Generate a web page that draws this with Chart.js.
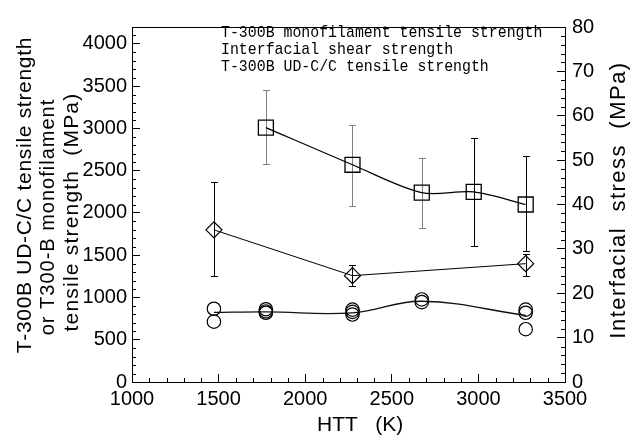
<!DOCTYPE html>
<html>
<head>
<meta charset="utf-8">
<script src="https://cdn.jsdelivr.net/npm/chart.js@4.4.1/dist/chart.umd.min.js"></script>
<style>
html,body{margin:0;padding:0;background:#fff;}
#wrap{width:640px;height:441px;position:relative;}
</style>
</head>
<body>
<div id="wrap"><canvas id="c"></canvas></div>
<script>
// ---------------- data ----------------
const monoHTT = [1773, 2273, 2673, 2973, 3273];
const monoStrength = [3010, 2570, 2240, 2250, 2100];
const monoLow = [2575, 2086, 1826, 1608, 1550];
const monoHigh = [3455, 3037, 2651, 2888, 2670];

const udHTT = [1473, 2273, 3273];
const udStrength = [1800, 1258, 1400];
const udLow = [1253, 1131, 1253];
const udHigh = [2369, 1390, 1520];

const issHTT = [1473, 1473, 1773, 1773, 1773, 2273, 2273, 2273, 2673, 2673, 3273, 3273, 3273];
const issValues = [16.5, 13.6, 16.4, 15.9, 15.6, 16.3, 15.8, 15.2, 18.6, 18.0, 16.3, 15.6, 11.9];

const issFitHTT = [1473, 1773, 2273, 2673, 3273];
const issFitValues = [15.7, 15.8, 15.6, 18.2, 15.0];

const xTicks = [1000, 1500, 2000, 2500, 3000, 3500];
const leftTicks = [0, 500, 1000, 1500, 2000, 2500, 3000, 3500, 4000];
const rightTicks = [0, 10, 20, 30, 40, 50, 60, 70, 80];

const legendLabels = [
  'T-300B monofilament tensile strength',
  'Interfacial shear strength',
  'T-300B UD-C/C tensile strength'
];
const xTitle = 'HTT   (K)';
const leftTitleLines = [
  'T-300B UD-C/C tensile strength',
  'or T300-B monofilament',
  'tensile strength  (MPa)'
];
const rightTitle = 'Interfacial  stress  (MPa)';

// ---------------- drawing ----------------
const FAMILY = '"Liberation Sans", Arial, sans-serif';
const monoBarColors = ['#808080', '#808080', '#808080', '#000', '#000'];
const udBarColors = ['#000', '#000', '#000'];

const decor = {
  id: 'decor',
  beforeDatasetsDraw(chart) {
    const {ctx, scales: {x, y}} = chart;
    ctx.save();
    ctx.lineWidth = 1;
    const bars = (xs, lo, hi, colors) => {
      xs.forEach((v, i) => {
        const px = Math.round(x.getPixelForValue(v)) + 0.5;
        const p1 = Math.round(y.getPixelForValue(lo[i])) + 0.5;
        const p2 = Math.round(y.getPixelForValue(hi[i])) + 0.5;
        ctx.strokeStyle = colors[i];
        ctx.beginPath();
        ctx.moveTo(px, p1); ctx.lineTo(px, p2);
        ctx.moveTo(px - 3.5, p1); ctx.lineTo(px + 3.5, p1);
        ctx.moveTo(px - 3.5, p2); ctx.lineTo(px + 3.5, p2);
        ctx.stroke();
      });
    };
    bars(monoHTT, monoLow, monoHigh, monoBarColors);
    bars(udHTT, udLow, udHigh, udBarColors);
    ctx.restore();
  },
  afterDraw(chart) {
    const {ctx, chartArea: a, scales: {x, y, y2}} = chart;
    ctx.save();
    ctx.strokeStyle = '#000';
    ctx.lineWidth = 1;
    // top frame line
    ctx.beginPath();
    ctx.moveTo(a.left, Math.round(a.top) + 0.5);
    ctx.lineTo(a.right, Math.round(a.top) + 0.5);
    ctx.stroke();
    // minor ticks
    ctx.beginPath();
    for (let v = 1100; v < 3500; v += 100) {
      if (v % 500 === 0) continue;
      const px = Math.round(x.getPixelForValue(v)) + 0.5;
      ctx.moveTo(px, a.bottom); ctx.lineTo(px, a.bottom - 4);
    }
    for (let v = 100; v < 4200; v += 100) {
      if (v % 500 === 0) continue;
      const py = Math.round(y.getPixelForValue(v)) + 0.5;
      ctx.moveTo(a.left, py); ctx.lineTo(a.left + 4, py);
    }
    for (let v = 2; v < 80; v += 2) {
      if (v % 10 === 0) continue;
      const py = Math.round(y2.getPixelForValue(v)) + 0.5;
      ctx.moveTo(a.right, py); ctx.lineTo(a.right - 4, py);
    }
    ctx.stroke();

    ctx.fillStyle = '#000';
    // legend text (text only)
    const lx = 221, lys = [37, 54, 71];
    ctx.font = '17px "Liberation Mono", "DejaVu Sans Mono", monospace';
    ctx.textAlign = 'left';
    ctx.textBaseline = 'alphabetic';
    legendLabels.forEach((t, i) => {
      ctx.save();
      ctx.translate(lx, lys[i]);
      ctx.scale(0.875, 1);
      ctx.fillText(t, 0, 0);
      ctx.restore();
    });

    // left axis title (three lines, rotated)
    const lcx = [25, 48, 72], lcy = [195, 217, 212];
    const lfs = [21, 20, 21], lls = ['0.7px', '1px', '1.2px'];
    leftTitleLines.forEach((t, i) => {
      ctx.save();
      ctx.translate(lcx[i], lcy[i]);
      ctx.rotate(-Math.PI / 2);
      ctx.font = lfs[i] + 'px ' + FAMILY;
      try { ctx.letterSpacing = lls[i]; } catch (e) {}
      ctx.textAlign = 'center';
      ctx.textBaseline = 'middle';
      ctx.fillText(t, 0, 0);
      ctx.restore();
    });

    // right axis title (rotated, reads bottom-to-top)
    ctx.save();
    ctx.translate(619, 200);
    ctx.rotate(-Math.PI / 2);
    ctx.font = '22px ' + FAMILY;
    try { ctx.letterSpacing = '1.5px'; } catch (e) {}
    ctx.textAlign = 'center';
    ctx.textBaseline = 'middle';
    ctx.fillText(rightTitle, 0, 0);
    ctx.restore();

    ctx.restore();
  }
};

const tickFont = {family: FAMILY, size: 20};
const plain = v => String(v);
const gridOpts = {display: true, drawOnChartArea: false, drawTicks: true, tickLength: -8, color: '#000', lineWidth: 1};
const borderOpts = {display: true, color: '#000', width: 1};

new Chart(document.getElementById('c'), {
  type: 'scatter',
  data: {
    datasets: [
      {
        label: legendLabels[0], type: 'line', yAxisID: 'y',
        data: monoHTT.map((v, i) => ({x: v, y: monoStrength[i]})),
        showLine: true, borderColor: '#000', borderWidth: 1.2, tension: 0.3, fill: false,
        pointStyle: 'rect', pointRadius: 10.6, pointBorderColor: '#000',
        pointBackgroundColor: 'rgba(0,0,0,0)', pointBorderWidth: 1.3
      },
      {
        label: legendLabels[2], type: 'line', yAxisID: 'y',
        data: udHTT.map((v, i) => ({x: v, y: udStrength[i]})),
        showLine: true, borderColor: '#000', borderWidth: 1, tension: 0, fill: false,
        pointStyle: 'rectRot', pointRadius: 8, pointBorderColor: '#000',
        pointBackgroundColor: 'rgba(0,0,0,0)', pointBorderWidth: 1.2
      },
      {
        label: legendLabels[1], type: 'scatter', yAxisID: 'y2',
        data: issHTT.map((v, i) => ({x: v, y: issValues[i]})),
        showLine: false, pointStyle: 'circle', pointRadius: 6.7,
        pointBorderColor: '#000', pointBackgroundColor: 'rgba(0,0,0,0)', pointBorderWidth: 1.2
      },
      {
        label: 'fit', type: 'line', yAxisID: 'y2',
        data: issFitHTT.map((v, i) => ({x: v, y: issFitValues[i]})),
        showLine: true, borderColor: '#111', borderWidth: 1.3, tension: 0.4, fill: false,
        pointRadius: 0
      }
    ]
  },
  options: {
    responsive: true,
    maintainAspectRatio: false,
    animation: false,
    devicePixelRatio: 1,
    layout: {padding: {top: 16, left: 0, right: 0, bottom: 0}},
    plugins: {legend: {display: false}, tooltip: {enabled: false}},
    events: [],
    scales: {
      x: {
        type: 'linear', position: 'bottom', min: 1000, max: 3500,
        afterBuildTicks: s => { s.ticks = xTicks.map(v => ({value: v})); },
        afterFit: s => { s.height = 59; },
        grid: gridOpts, border: borderOpts,
        ticks: {color: '#000', font: tickFont, padding: 13, maxRotation: 0, autoSkip: false, callback: plain},
        title: {display: true, text: '    ' + xTitle, color: '#000', font: {family: FAMILY, size: 21}, padding: {top: 0, bottom: 3}}
      },
      y: {
        type: 'linear', position: 'left', min: 0, max: 4200,
        afterBuildTicks: s => { s.ticks = leftTicks.map(v => ({value: v})); },
        afterFit: s => { s.width = 132; },
        grid: gridOpts, border: borderOpts,
        ticks: {color: '#000', font: tickFont, padding: 13, autoSkip: false, callback: plain}
      },
      y2: {
        type: 'linear', position: 'right', min: 0, max: 80,
        afterBuildTicks: s => { s.ticks = rightTicks.map(v => ({value: v})); },
        afterFit: s => { s.width = 75; },
        grid: gridOpts, border: borderOpts,
        ticks: {color: '#000', font: tickFont, padding: 15, autoSkip: false, callback: plain}
      }
    }
  },
  plugins: [decor]
});
</script>
</body>
</html>
